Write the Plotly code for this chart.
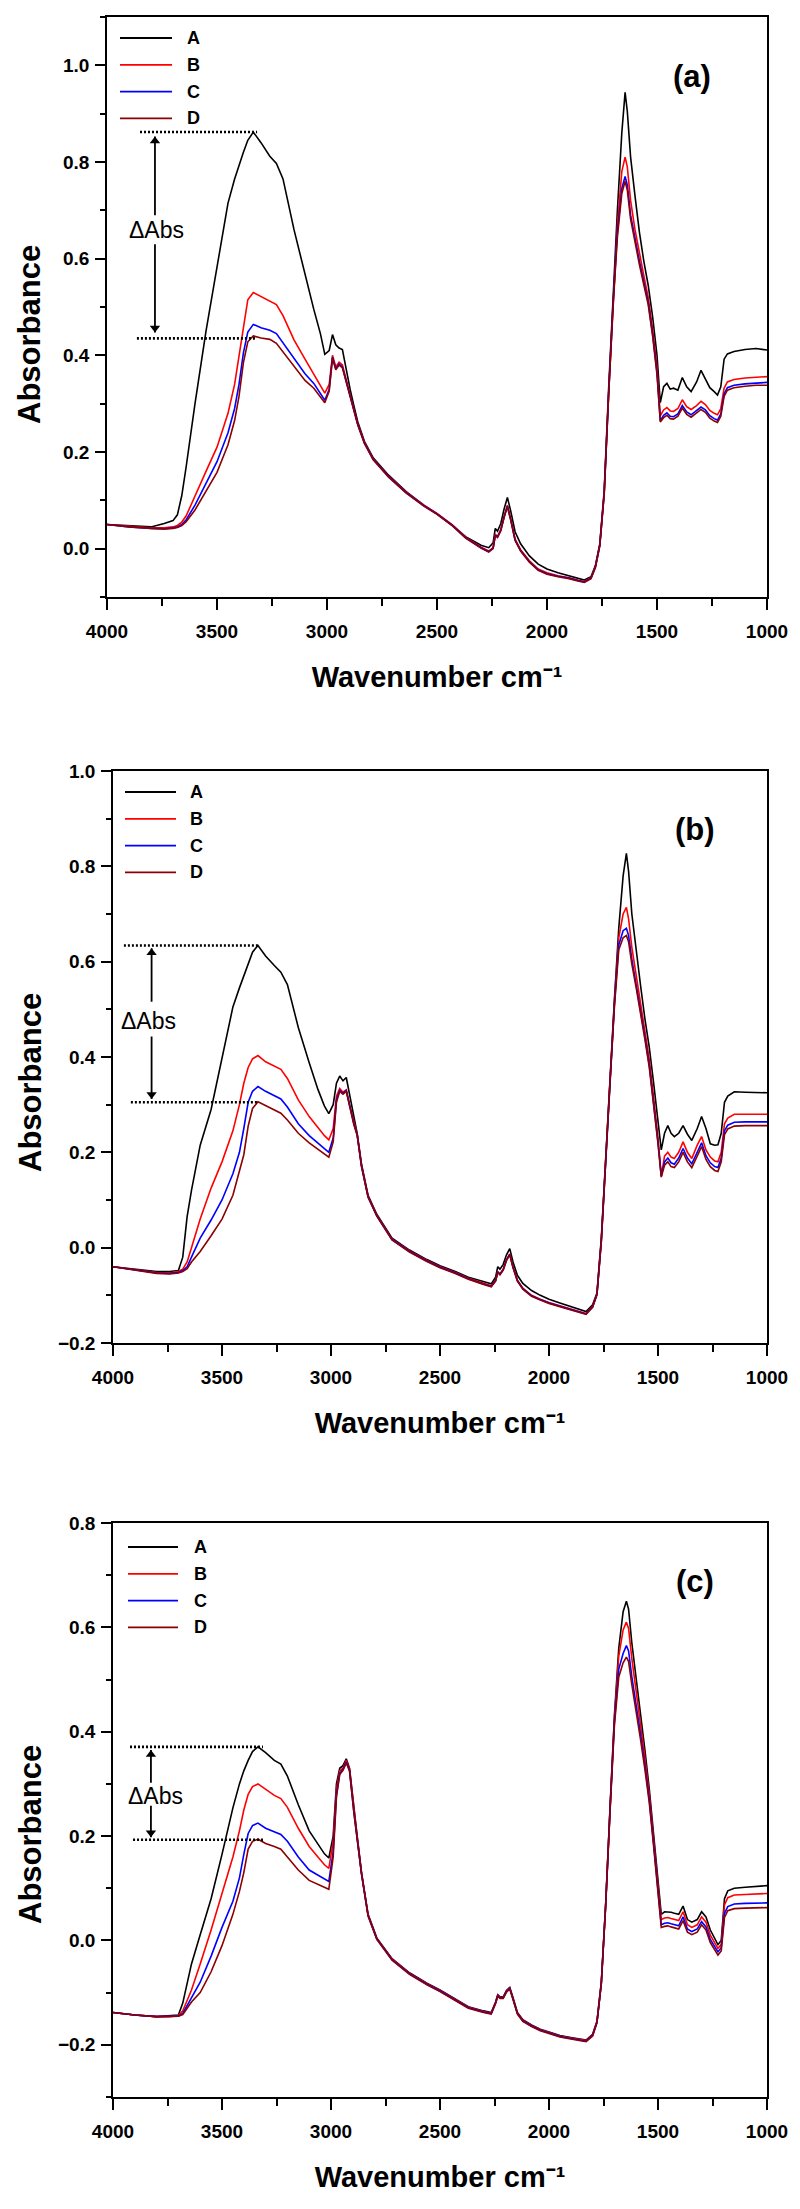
import plotly.graph_objects as go

# ---------------- data ----------------
wavenumber = [
    4000, 3900, 3800, 3740, 3700, 3680, 3660, 3640, 3600, 3550, 3500, 3450, 3420, 3400, 3380, 3360, 3335,
    3300, 3260, 3230, 3200, 3150, 3100, 3060, 3030, 3010, 2990, 2975, 2960, 2945, 2930, 2915, 2895,
    2880, 2860, 2830, 2790, 2720, 2640, 2560, 2500, 2430, 2370, 2300, 2265, 2245, 2235, 2225, 2210,
    2195, 2180, 2165, 2145, 2120, 2080, 2040, 2000, 1950, 1900, 1860, 1830, 1800, 1780, 1760,
    1740, 1720, 1700, 1680, 1660, 1645, 1635, 1620, 1600, 1580, 1560, 1540, 1520, 1500, 1485, 1470,
    1455, 1440, 1425, 1405, 1385, 1365, 1345, 1320, 1300, 1280, 1260, 1240, 1225, 1210, 1195, 1180,
    1150, 1100, 1050, 1000,
]

series_names = ["A", "B", "C", "D"]

# panel (a)
a_A = [0.050, 0.048, 0.045, 0.052, 0.058, 0.070, 0.110, 0.170, 0.300, 0.450, 0.580, 0.715, 0.765, 0.795, 0.820, 0.845, 0.862,
       0.840, 0.812, 0.797, 0.765, 0.660, 0.565, 0.495, 0.445, 0.402, 0.410, 0.443, 0.422, 0.415, 0.412, 0.375, 0.330,
       0.300, 0.262, 0.222, 0.188, 0.152, 0.118, 0.090, 0.072, 0.048, 0.025, 0.007, 0.002, 0.012, 0.042, 0.036, 0.052,
       0.082, 0.106, 0.078, 0.035, 0.010, -0.015, -0.032, -0.042, -0.050, -0.056, -0.062, -0.065, -0.058, -0.035, 0.010,
       0.120, 0.330, 0.520, 0.700, 0.860, 0.944, 0.905, 0.810, 0.730, 0.655, 0.595, 0.545, 0.480, 0.400, 0.302, 0.335,
       0.342, 0.330, 0.332, 0.328, 0.354, 0.335, 0.325, 0.345, 0.369, 0.352, 0.333, 0.325, 0.318, 0.335, 0.392, 0.403,
       0.408, 0.412, 0.414, 0.411]
a_B = [0.050, 0.046, 0.043, 0.043, 0.045, 0.048, 0.055, 0.068, 0.110, 0.160, 0.210, 0.280, 0.340, 0.400, 0.465, 0.515, 0.530,
       0.522, 0.513, 0.505, 0.482, 0.432, 0.392, 0.362, 0.338, 0.322, 0.340, 0.400, 0.376, 0.386, 0.380, 0.352, 0.318,
       0.292, 0.258, 0.220, 0.186, 0.150, 0.117, 0.090, 0.073, 0.049, 0.024, 0.003, -0.005, 0.002, 0.030, 0.025, 0.040,
       0.068, 0.090, 0.062, 0.020, -0.002, -0.025, -0.042, -0.050, -0.056, -0.060, -0.065, -0.068, -0.060, -0.037, 0.008,
       0.115, 0.320, 0.510, 0.670, 0.780, 0.810, 0.790, 0.720, 0.660, 0.610, 0.565, 0.520, 0.455, 0.375, 0.275, 0.287,
       0.292, 0.285, 0.284, 0.290, 0.308, 0.294, 0.288, 0.296, 0.305, 0.298, 0.286, 0.280, 0.277, 0.290, 0.332, 0.345,
       0.350, 0.353, 0.355, 0.356]
a_C = [0.050, 0.045, 0.042, 0.041, 0.043, 0.045, 0.050, 0.060, 0.090, 0.135, 0.180, 0.240, 0.290, 0.340, 0.405, 0.448, 0.464,
       0.457, 0.452, 0.445, 0.426, 0.392, 0.362, 0.342, 0.322, 0.307, 0.330, 0.396, 0.372, 0.382, 0.376, 0.350, 0.316,
       0.290, 0.257, 0.219, 0.185, 0.149, 0.116, 0.089, 0.072, 0.048, 0.023, 0.002, -0.006, 0.001, 0.028, 0.024, 0.038,
       0.066, 0.088, 0.060, 0.018, -0.004, -0.027, -0.044, -0.052, -0.057, -0.061, -0.066, -0.069, -0.061, -0.038, 0.007,
       0.114, 0.318, 0.505, 0.655, 0.745, 0.770, 0.752, 0.690, 0.640, 0.595, 0.552, 0.510, 0.445, 0.365, 0.265, 0.276,
       0.281, 0.274, 0.273, 0.279, 0.296, 0.283, 0.277, 0.285, 0.293, 0.287, 0.275, 0.269, 0.266, 0.279, 0.320, 0.333,
       0.338, 0.341, 0.343, 0.344]
a_D = [0.050, 0.045, 0.042, 0.041, 0.042, 0.044, 0.048, 0.056, 0.080, 0.118, 0.158, 0.215, 0.265, 0.315, 0.385, 0.428, 0.440,
       0.436, 0.433, 0.425, 0.407, 0.377, 0.348, 0.332, 0.315, 0.302, 0.326, 0.394, 0.370, 0.380, 0.374, 0.348, 0.314,
       0.289, 0.256, 0.218, 0.184, 0.148, 0.115, 0.088, 0.071, 0.047, 0.022, 0.001, -0.007, 0.000, 0.027, 0.023, 0.037,
       0.065, 0.087, 0.059, 0.017, -0.005, -0.028, -0.045, -0.053, -0.058, -0.062, -0.067, -0.070, -0.062, -0.039, 0.006,
       0.113, 0.316, 0.500, 0.645, 0.735, 0.760, 0.742, 0.682, 0.632, 0.588, 0.546, 0.505, 0.440, 0.360, 0.262, 0.271,
       0.276, 0.269, 0.268, 0.274, 0.291, 0.278, 0.272, 0.280, 0.288, 0.282, 0.270, 0.264, 0.261, 0.274, 0.315, 0.328,
       0.333, 0.336, 0.338, 0.338]

# panel (b)
b_A = [-0.040, -0.045, -0.050, -0.050, -0.048, -0.020, 0.065, 0.120, 0.215, 0.290, 0.395, 0.505, 0.545, 0.570, 0.595, 0.620, 0.634,
       0.612, 0.592, 0.578, 0.552, 0.462, 0.388, 0.332, 0.297, 0.281, 0.300, 0.345, 0.360, 0.350, 0.357, 0.320, 0.270,
       0.240, 0.175, 0.110, 0.070, 0.020, -0.005, -0.025, -0.038, -0.050, -0.062, -0.072, -0.076, -0.062, -0.040, -0.045, -0.035,
       -0.015, -0.002, -0.030, -0.058, -0.075, -0.090, -0.100, -0.108, -0.116, -0.123, -0.130, -0.134, -0.120, -0.095, 0.020,
       0.195, 0.360, 0.520, 0.670, 0.780, 0.827, 0.790, 0.700, 0.620, 0.550, 0.480, 0.420, 0.345, 0.260, 0.205, 0.240,
       0.256, 0.240, 0.233, 0.240, 0.256, 0.238, 0.225, 0.250, 0.275, 0.250, 0.218, 0.215, 0.216, 0.240, 0.305, 0.318,
       0.327, 0.326, 0.326, 0.325]
b_B = [-0.040, -0.046, -0.052, -0.053, -0.050, -0.045, -0.030, 0.000, 0.060, 0.125, 0.180, 0.245, 0.300, 0.345, 0.378, 0.396, 0.403,
       0.390, 0.380, 0.374, 0.355, 0.310, 0.275, 0.252, 0.235, 0.226, 0.250, 0.318, 0.334, 0.326, 0.331, 0.300, 0.262,
       0.238, 0.172, 0.108, 0.068, 0.018, -0.007, -0.027, -0.040, -0.052, -0.064, -0.075, -0.080, -0.068, -0.050, -0.055, -0.045,
       -0.025, -0.013, -0.040, -0.068, -0.085, -0.100, -0.108, -0.115, -0.122, -0.128, -0.134, -0.138, -0.123, -0.097, 0.015,
       0.190, 0.355, 0.515, 0.650, 0.700, 0.714, 0.690, 0.630, 0.570, 0.515, 0.455, 0.395, 0.315, 0.230, 0.150, 0.192,
       0.200, 0.190, 0.187, 0.200, 0.222, 0.200, 0.187, 0.215, 0.233, 0.205, 0.190, 0.182, 0.180, 0.200, 0.260, 0.272,
       0.280, 0.280, 0.281, 0.280]
b_C = [-0.040, -0.047, -0.053, -0.054, -0.052, -0.048, -0.040, -0.020, 0.020, 0.058, 0.100, 0.155, 0.200, 0.250, 0.305, 0.328, 0.338,
       0.328, 0.318, 0.312, 0.295, 0.260, 0.235, 0.220, 0.208, 0.200, 0.230, 0.310, 0.330, 0.324, 0.330, 0.298, 0.260,
       0.237, 0.171, 0.107, 0.067, 0.017, -0.008, -0.028, -0.041, -0.053, -0.065, -0.076, -0.081, -0.069, -0.051, -0.056, -0.046,
       -0.026, -0.014, -0.041, -0.069, -0.086, -0.101, -0.109, -0.116, -0.123, -0.129, -0.135, -0.139, -0.124, -0.098, 0.014,
       0.188, 0.352, 0.510, 0.635, 0.665, 0.670, 0.655, 0.605, 0.552, 0.500, 0.442, 0.383, 0.305, 0.222, 0.150, 0.180,
       0.188, 0.178, 0.175, 0.188, 0.208, 0.188, 0.176, 0.202, 0.220, 0.193, 0.178, 0.170, 0.168, 0.188, 0.245, 0.257,
       0.263, 0.264, 0.264, 0.264]
b_D = [-0.040, -0.047, -0.054, -0.055, -0.053, -0.050, -0.044, -0.030, -0.008, 0.025, 0.060, 0.110, 0.160, 0.195, 0.255, 0.292, 0.306,
       0.298, 0.288, 0.282, 0.268, 0.240, 0.220, 0.207, 0.197, 0.190, 0.222, 0.305, 0.328, 0.322, 0.328, 0.296, 0.258,
       0.236, 0.170, 0.106, 0.066, 0.016, -0.009, -0.029, -0.042, -0.054, -0.066, -0.077, -0.082, -0.070, -0.052, -0.057, -0.047,
       -0.027, -0.015, -0.042, -0.070, -0.087, -0.102, -0.110, -0.117, -0.124, -0.130, -0.136, -0.140, -0.125, -0.099, 0.013,
       0.187, 0.350, 0.505, 0.625, 0.650, 0.655, 0.642, 0.595, 0.545, 0.495, 0.437, 0.378, 0.300, 0.218, 0.148, 0.173,
       0.180, 0.170, 0.168, 0.180, 0.200, 0.180, 0.168, 0.194, 0.212, 0.185, 0.170, 0.162, 0.160, 0.180, 0.237, 0.249,
       0.255, 0.256, 0.256, 0.256]

# panel (c)
c_A = [-0.138, -0.143, -0.146, -0.145, -0.143, -0.120, -0.085, -0.045, 0.011, 0.080, 0.165, 0.254, 0.300, 0.325, 0.345, 0.362, 0.371,
       0.360, 0.345, 0.338, 0.315, 0.260, 0.210, 0.185, 0.166, 0.158, 0.200, 0.300, 0.330, 0.335, 0.348, 0.330, 0.250,
       0.200, 0.130, 0.050, 0.005, -0.035, -0.062, -0.082, -0.095, -0.112, -0.127, -0.135, -0.138, -0.118, -0.104, -0.108, -0.108,
       -0.096, -0.090, -0.110, -0.138, -0.152, -0.162, -0.170, -0.176, -0.182, -0.186, -0.189, -0.191, -0.180, -0.155, -0.080,
       0.070, 0.255, 0.430, 0.560, 0.630, 0.650, 0.635, 0.570, 0.505, 0.435, 0.365, 0.290, 0.200, 0.110, 0.050, 0.055,
       0.055, 0.054, 0.052, 0.050, 0.066, 0.040, 0.035, 0.040, 0.055, 0.045, 0.020, 0.005, -0.008, 0.000, 0.080, 0.095,
       0.100, 0.102, 0.103, 0.105]
c_B = [-0.138, -0.143, -0.146, -0.146, -0.144, -0.135, -0.115, -0.095, -0.045, 0.020, 0.090, 0.160, 0.210, 0.250, 0.280, 0.295, 0.300,
       0.290, 0.278, 0.272, 0.255, 0.215, 0.180, 0.160, 0.145, 0.138, 0.190, 0.290, 0.325, 0.330, 0.345, 0.328, 0.248,
       0.199, 0.129, 0.049, 0.004, -0.036, -0.063, -0.083, -0.096, -0.113, -0.128, -0.136, -0.139, -0.119, -0.105, -0.109, -0.109,
       -0.097, -0.091, -0.111, -0.139, -0.153, -0.163, -0.171, -0.177, -0.183, -0.187, -0.190, -0.192, -0.181, -0.156, -0.081,
       0.069, 0.252, 0.425, 0.545, 0.595, 0.610, 0.598, 0.540, 0.480, 0.415, 0.350, 0.280, 0.192, 0.102, 0.040, 0.043,
       0.044, 0.042, 0.040, 0.038, 0.055, 0.030, 0.025, 0.030, 0.045, 0.035, 0.010, -0.005, -0.015, -0.008, 0.068, 0.082,
       0.087, 0.088, 0.089, 0.090]
c_C = [-0.138, -0.143, -0.146, -0.146, -0.145, -0.140, -0.125, -0.110, -0.080, -0.030, 0.025, 0.075, 0.120, 0.165, 0.205, 0.220, 0.225,
       0.215, 0.208, 0.203, 0.190, 0.160, 0.135, 0.125, 0.117, 0.113, 0.170, 0.280, 0.320, 0.328, 0.342, 0.326, 0.246,
       0.198, 0.128, 0.048, 0.003, -0.037, -0.064, -0.084, -0.097, -0.114, -0.129, -0.137, -0.140, -0.120, -0.106, -0.110, -0.110,
       -0.098, -0.092, -0.112, -0.140, -0.154, -0.164, -0.172, -0.178, -0.184, -0.188, -0.191, -0.193, -0.182, -0.157, -0.082,
       0.068, 0.250, 0.418, 0.520, 0.550, 0.565, 0.555, 0.505, 0.452, 0.395, 0.335, 0.270, 0.185, 0.097, 0.030, 0.033,
       0.034, 0.032, 0.030, 0.028, 0.045, 0.022, 0.017, 0.022, 0.036, 0.026, 0.002, -0.012, -0.022, -0.014, 0.052, 0.065,
       0.070, 0.071, 0.072, 0.072]
c_D = [-0.138, -0.143, -0.146, -0.146, -0.145, -0.142, -0.130, -0.118, -0.100, -0.060, -0.010, 0.050, 0.094, 0.130, 0.175, 0.190, 0.194,
       0.186, 0.180, 0.175, 0.160, 0.135, 0.115, 0.108, 0.102, 0.098, 0.160, 0.275, 0.318, 0.326, 0.340, 0.325, 0.245,
       0.197, 0.127, 0.047, 0.002, -0.038, -0.065, -0.085, -0.098, -0.115, -0.130, -0.138, -0.141, -0.121, -0.107, -0.111, -0.111,
       -0.099, -0.093, -0.113, -0.141, -0.155, -0.165, -0.173, -0.179, -0.185, -0.189, -0.192, -0.194, -0.183, -0.158, -0.083,
       0.067, 0.248, 0.412, 0.505, 0.532, 0.543, 0.535, 0.490, 0.440, 0.385, 0.328, 0.264, 0.180, 0.093, 0.025, 0.027,
       0.028, 0.026, 0.024, 0.022, 0.038, 0.016, 0.011, 0.016, 0.030, 0.020, -0.004, -0.018, -0.028, -0.020, 0.044, 0.057,
       0.061, 0.062, 0.063, 0.063]

x_ticks = [4000, 3500, 3000, 2500, 2000, 1500, 1000]
y_ranges = [[-0.1, 1.1], [-0.2, 1.0], [-0.3, 0.8]]
x_title = "Wavenumber cm⁻¹"
y_title = "Absorbance"
panel_tags = ["(a)", "(b)", "(c)"]
tag_x = [1341, 1330, 1330]
tag_y = [0.977, 0.877, 0.688]

# ΔAbs markers (dotted levels + double arrow)
dot_top_x0 = [3850, 3950, 3922]
dot_top_x1 = [3318, 3326, 3312]
dot_top_y = [0.862, 0.634, 0.371]
dot_bot_x0 = [3864, 3918, 3908]
dot_bot_x1 = [3327, 3340, 3312]
dot_bot_y = [0.435, 0.305, 0.193]
arrow_x = [3782, 3823, 3826]
arrow_top_tail = [0.690, 0.516, 0.302]
arrow_top_head = [0.853, 0.628, 0.365]
arrow_bot_tail = [0.630, 0.443, 0.258]
arrow_bot_head = [0.447, 0.312, 0.198]
dabs_x = [3773, 3837, 3807]
dabs_y = [0.660, 0.476, 0.277]

for s in [a_A, a_B, a_C, a_D, b_A, b_B, b_C, b_D, c_A, c_B, c_C, c_D]:
    assert len(s) == len(wavenumber), len(s)

# ---------------- layout geometry (pixels of the 800x2209 page) ----------------
W, H = 800, 2209
FONT = "Liberation Sans, Arial, sans-serif"
colors = {"A": "#000000", "B": "#ff0000", "C": "#0000ff", "D": "#8b0000"}

plot_px = [  # left, right, top, bottom
    (107, 767, 17, 597),
    (113, 767, 771, 1343),
    (113, 767, 1523, 2097),
]
ytitle_y = [335, 1083, 1835]
legend_px = [  # line x0, line x1, text x, first row y
    (120, 172, 185, 38),
    (125, 176, 188, 792),
    (128, 178, 192, 1547),
]
legend_step = 26.8
HEAD_SIZE = 9  # arrow head marker size (px)


def px_x(v):
    return v / W


def px_y(v):
    return 1 - v / H


panels = [
    {"A": a_A, "B": a_B, "C": a_C, "D": a_D},
    {"A": b_A, "B": b_B, "C": b_C, "D": b_D},
    {"A": c_A, "B": c_B, "C": c_C, "D": c_D},
]

fig = go.Figure()
annotations = []
shapes = []
layout_axes = {}

for i, pdata in enumerate(panels):
    k = "" if i == 0 else str(i + 1)
    xa, ya = "x" + k, "y" + k
    l, r, t, b = plot_px[i]
    units_per_px = (y_ranges[i][1] - y_ranges[i][0]) / (b - t)

    for name in series_names:
        fig.add_trace(go.Scatter(
            x=wavenumber, y=pdata[name], mode="lines", name=name,
            line=dict(color=colors[name], width=1.6),
            xaxis=xa, yaxis=ya, showlegend=False,
            hovertemplate=name + ": %{x} cm⁻¹, %{y:.3f}<extra></extra>",
        ))

    tickfont = dict(family=FONT, size=19, color="black", weight="bold")
    layout_axes["xaxis" + k] = dict(
        domain=[px_x(l), px_x(r)], anchor=ya, range=[4000, 1000],
        tickmode="array", tickvals=x_ticks, ticktext=[str(v) for v in x_ticks],
        ticks="outside", ticklen=11, tickwidth=1.6, tickcolor="black",
        showline=True, linecolor="black", linewidth=1.6, mirror=True,
        showgrid=False, zeroline=False, tickfont=tickfont, ticklabelstandoff=5,
        automargin=False,
        title=dict(text="<b>" + x_title + "</b>", standoff=26,
                   font=dict(family=FONT, size=29, color="black")),
        minor=dict(dtick=250, tick0=1000, ticks="outside", ticklen=7, tickwidth=1.6,
                   tickcolor="black", showgrid=False),
    )
    layout_axes["yaxis" + k] = dict(
        domain=[px_y(b), px_y(t)], anchor=xa, range=y_ranges[i],
        tick0=0, dtick=0.2, tickformat=".1f",
        ticks="outside", ticklen=10, tickwidth=1.6, tickcolor="black",
        showline=True, linecolor="black", linewidth=1.6, mirror=True,
        showgrid=False, zeroline=False, tickfont=tickfont, ticklabelstandoff=2,
        automargin=False,
        minor=dict(dtick=0.1, tick0=0, ticks="outside", ticklen=5, tickwidth=1.6,
                   tickcolor="black", showgrid=False),
    )

    # y-axis title (placed like in the reference: slightly below the panel centre)
    annotations.append(dict(
        text="<b>" + y_title + "</b>", x=px_x(30), y=px_y(ytitle_y[i]), xref="paper", yref="paper",
        textangle=-90, showarrow=False, xanchor="center", yanchor="middle",
        font=dict(family=FONT, size=31, color="black"),
    ))
    # panel tag
    annotations.append(dict(
        text="<b>" + panel_tags[i] + "</b>", x=tag_x[i], y=tag_y[i], xref=xa, yref=ya,
        showarrow=False, xanchor="center", yanchor="middle",
        font=dict(family=FONT, size=31, color="black"),
    ))
    # ΔAbs label
    annotations.append(dict(
        text="ΔAbs", x=dabs_x[i], y=dabs_y[i], xref=xa, yref=ya, showarrow=False,
        xanchor="center", yanchor="middle", font=dict(family=FONT, size=23, color="black"),
    ))
    # arrow shafts (shapes) + arrow heads (triangle markers whose tips sit on the heads)
    half = HEAD_SIZE / 2 * units_per_px
    for tail, head in [(arrow_top_tail[i], arrow_top_head[i]), (arrow_bot_tail[i], arrow_bot_head[i])]:
        shapes.append(dict(
            type="line", xref=xa, yref=ya, x0=arrow_x[i], x1=arrow_x[i], y0=tail, y1=head,
            line=dict(color="black", width=1.8),
        ))
    fig.add_trace(go.Scatter(
        x=[arrow_x[i], arrow_x[i]],
        y=[arrow_top_head[i] - half, arrow_bot_head[i] + half],
        mode="markers", xaxis=xa, yaxis=ya, showlegend=False, hoverinfo="skip",
        marker=dict(symbol=["triangle-up", "triangle-down"], size=HEAD_SIZE, color="black",
                    line=dict(width=0)),
    ))
    # dotted levels
    for x0, x1, yv in [(dot_top_x0[i], dot_top_x1[i], dot_top_y[i]),
                       (dot_bot_x0[i], dot_bot_x1[i], dot_bot_y[i])]:
        shapes.append(dict(
            type="line", xref=xa, yref=ya, x0=x0, x1=x1, y0=yv, y1=yv,
            line=dict(color="black", width=2.6, dash="2px,2px"), layer="above",
        ))

    # legend (line sample + bold letter)
    lx0, lx1, tx, ty0 = legend_px[i]
    for j, name in enumerate(series_names):
        yy = ty0 + j * legend_step
        shapes.append(dict(
            type="line", xref="paper", yref="paper",
            x0=px_x(lx0), x1=px_x(lx1), y0=px_y(yy), y1=px_y(yy),
            line=dict(color=colors[name], width=1.8),
        ))
        annotations.append(dict(
            text="<b>" + name + "</b>", x=px_x(tx), y=px_y(yy), xref="paper", yref="paper",
            showarrow=False, xanchor="left", yanchor="middle",
            font=dict(family=FONT, size=18, color="black"),
        ))

fig.update_layout(
    width=W, height=H, margin=dict(l=0, r=0, t=0, b=0),
    paper_bgcolor="white", plot_bgcolor="white",
    showlegend=False, annotations=annotations, shapes=shapes,
    **layout_axes,
)

# remove the browser's default page margin so the 800x2209 figure fills the window exactly
fig.write_html(
    "out.html",
    config={"displayModeBar": False},
    post_script="document.body.style.margin='0';document.body.style.overflow='hidden';",
)
